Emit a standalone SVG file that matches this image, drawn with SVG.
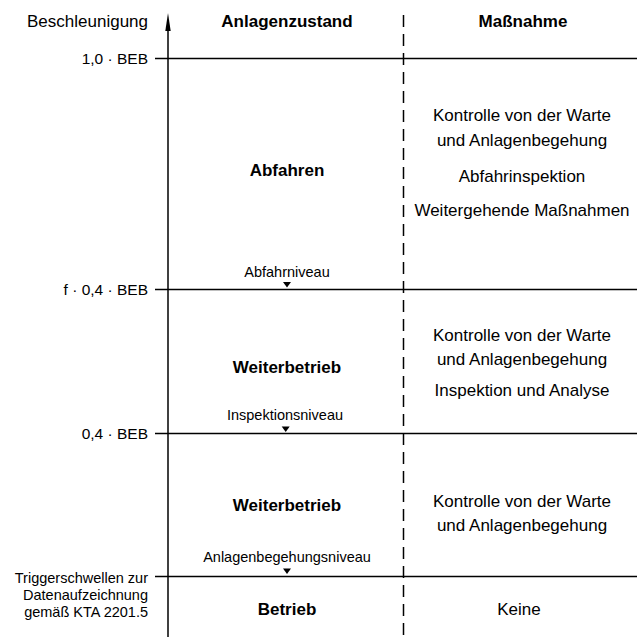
<svg xmlns="http://www.w3.org/2000/svg" width="638" height="637" viewBox="0 0 638 637">
<style>
  text { font-family: "Liberation Sans", Arial, sans-serif; fill: #000; }
  .t { font-size: 17px; text-anchor: middle; }
  .b { font-size: 17px; font-weight: bold; text-anchor: middle; }
  .s { font-size: 14.5px; text-anchor: middle; }
  .l { font-size: 15.5px; text-anchor: end; }
  .ls { font-size: 14.5px; text-anchor: end; }
  .ax { stroke: #000; stroke-width: 1.5; fill: none; }
  .h { stroke: #000; stroke-width: 1.4; fill: none; }
  .d { stroke: #000; stroke-width: 1.5; fill: none; stroke-dasharray: 12 7; }
  .tri { fill: #000; }
</style>
<rect width="638" height="637" fill="#fff"/>
<g id="connectors">
  <line class="ax" x1="168" y1="28" x2="168" y2="637"/>
  <polygon class="tri" points="168,13 165.3,31 170.7,31"/>
  <line class="d" x1="403.5" y1="15" x2="403.5" y2="637"/>
  <line class="h" x1="155" y1="58.5" x2="637" y2="58.5"/>
  <line class="h" x1="155" y1="289.5" x2="637" y2="289.5"/>
  <line class="h" x1="155" y1="433.5" x2="637" y2="433.5"/>
  <line class="h" x1="155" y1="576.5" x2="637" y2="576.5"/>
</g>
<g id="axis-labels">
  <text class="ls" x="148" y="27" style="font-size:17px">Beschleunigung</text>
  <text class="l" x="148" y="64">1,0 · BEB</text>
  <text class="l" x="148" y="295">f · 0,4 · BEB</text>
  <text class="l" x="148" y="439">0,4 · BEB</text>
  <text class="ls" x="148" y="583">Triggerschwellen zur</text>
  <text class="ls" x="148" y="600">Datenaufzeichnung</text>
  <text class="ls" x="148" y="617">gemäß KTA 2201.5</text>
</g>
<g id="headers">
  <text class="b" x="287" y="27">Anlagenzustand</text>
  <text class="b" x="523" y="27">Maßnahme</text>
</g>
<g id="state-abfahren">
  <text class="b" x="287" y="176">Abfahren</text>
  <text class="s" x="287" y="277">Abfahrniveau</text>
  <polygon class="tri" points="283,282 291,282 287,287.5"/>
</g>
<g id="state-weiterbetrieb-1">
  <text class="b" x="287" y="373">Weiterbetrieb</text>
  <text class="s" x="285" y="420">Inspektionsniveau</text>
  <polygon class="tri" points="281.7,426.5 289.7,426.5 285.7,432"/>
</g>
<g id="state-weiterbetrieb-2">
  <text class="b" x="287" y="511">Weiterbetrieb</text>
  <text class="s" x="287" y="562">Anlagenbegehungsniveau</text>
  <polygon class="tri" points="283,568.5 291,568.5 287,574"/>
</g>
<g id="state-betrieb">
  <text class="b" x="287" y="615">Betrieb</text>
</g>
<g id="measure-1">
  <text class="t" x="522" y="121">Kontrolle von der Warte</text>
  <text class="t" x="522" y="146">und Anlagenbegehung</text>
  <text class="t" x="522" y="182">Abfahrinspektion</text>
  <text class="t" x="522" y="216">Weitergehende Maßnahmen</text>
</g>
<g id="measure-2">
  <text class="t" x="522" y="341">Kontrolle von der Warte</text>
  <text class="t" x="522" y="365">und Anlagenbegehung</text>
  <text class="t" x="522" y="396">Inspektion und Analyse</text>
</g>
<g id="measure-3">
  <text class="t" x="522" y="507">Kontrolle von der Warte</text>
  <text class="t" x="522" y="531">und Anlagenbegehung</text>
</g>
<g id="measure-4">
  <text class="t" x="519" y="615">Keine</text>
</g>
</svg>
